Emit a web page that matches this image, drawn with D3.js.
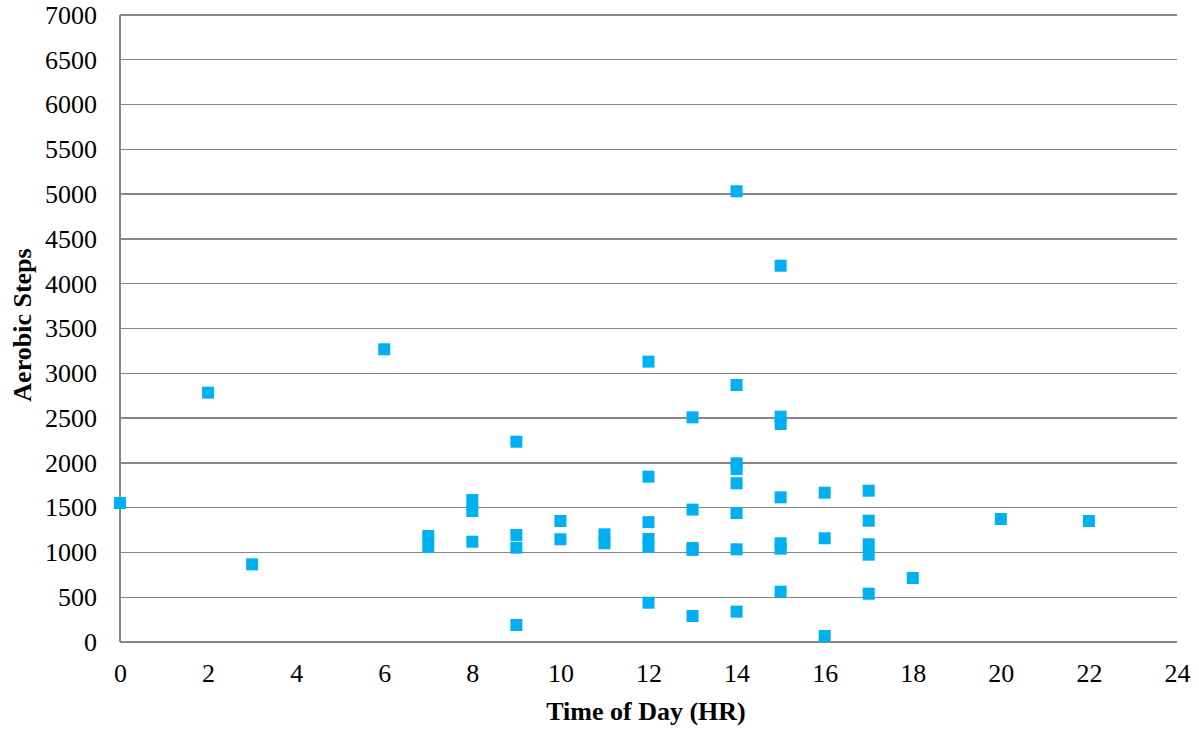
<!DOCTYPE html>
<html><head><meta charset="utf-8">
<script src="https://cdn.jsdelivr.net/npm/d3@7"></script>
<style>body{margin:0;background:#fff}svg{display:block}</style>
</head><body>
<svg id="c" width="1199" height="731"></svg>
<script>
const hours = [0,2,3,6,7,7,8,8,8,9,9,9,9,10,10,11,11,12,12,12,12,12,12,13,13,13,13,13,14,14,14,14,14,14,14,14,15,15,15,15,15,15,15,16,16,16,17,17,17,17,17,18,20,22];
const steps = [1552,2784,867,3268,1183,1061,1585,1463,1120,2236,1195,1053,190,1351,1147,1202,1102,3130,1846,1338,1150,1064,439,2508,1478,1050,1028,290,5032,2869,1995,1931,1772,1440,1035,339,4201,2515,2434,1615,1102,1042,562,1667,1158,67,1689,1354,1091,975,539,714,1373,1351];
const xTicks = [0,2,4,6,8,10,12,14,16,18,20,22,24];
const yTicks = [0,500,1000,1500,2000,2500,3000,3500,4000,4500,5000,5500,6000,6500,7000];
const xTitle = "Time of Day (HR)";
const yTitle = "Aerobic Steps";

const L=120,R=1177,T=15,B=642;
const svg=d3.select("#c");
const x=d3.scaleLinear().domain([0,24]).range([L,R]);
const y=d3.scaleLinear().domain([0,7000]).range([B,T]);
const font="'Liberation Serif','Times New Roman',serif";
const fs=26;

svg.append("g").selectAll("line").data(yTicks).join("line")
  .attr("x1",L).attr("x2",R).attr("y1",d=>y(d)).attr("y2",d=>y(d))
  .attr("stroke","#868686").attr("stroke-width",1.4).attr("shape-rendering","crispEdges");
svg.append("line").attr("x1",L).attr("x2",L).attr("y1",T).attr("y2",B)
  .attr("stroke","#868686").attr("stroke-width",1.4).attr("shape-rendering","crispEdges");

const yAxis=svg.append("g").attr("transform",`translate(${L},0)`)
  .call(d3.axisLeft(y).tickValues(yTicks).tickSize(0).tickPadding(23).tickFormat(d3.format("d")));
yAxis.select(".domain").remove();
yAxis.selectAll("text").attr("font-family",font).attr("font-size",fs).attr("fill","#000");

const xAxis=svg.append("g").attr("transform",`translate(0,${B})`)
  .call(d3.axisBottom(x).tickValues(xTicks).tickSize(0).tickPadding(22).tickFormat(d3.format("d")));
xAxis.select(".domain").remove();
xAxis.selectAll("text").attr("font-family",font).attr("font-size",fs).attr("fill","#000");

const pts=hours.map((h,i)=>({h,s:steps[i]}));
const m=12;
svg.append("g").selectAll("rect").data(pts).join("rect")
  .attr("x",d=>x(d.h)-m/2).attr("y",d=>y(d.s)-m/2).attr("width",m).attr("height",m)
  .attr("fill","#00B0F0");

svg.append("text").attr("x",646).attr("y",720).attr("text-anchor","middle")
  .attr("font-family",font).attr("font-size",fs).attr("font-weight","bold").text(xTitle);
svg.append("text").attr("transform",`translate(31,325) rotate(-90)`).attr("text-anchor","middle")
  .attr("font-family",font).attr("font-size",fs).attr("font-weight","bold").text(yTitle);
</script>
</body></html>
